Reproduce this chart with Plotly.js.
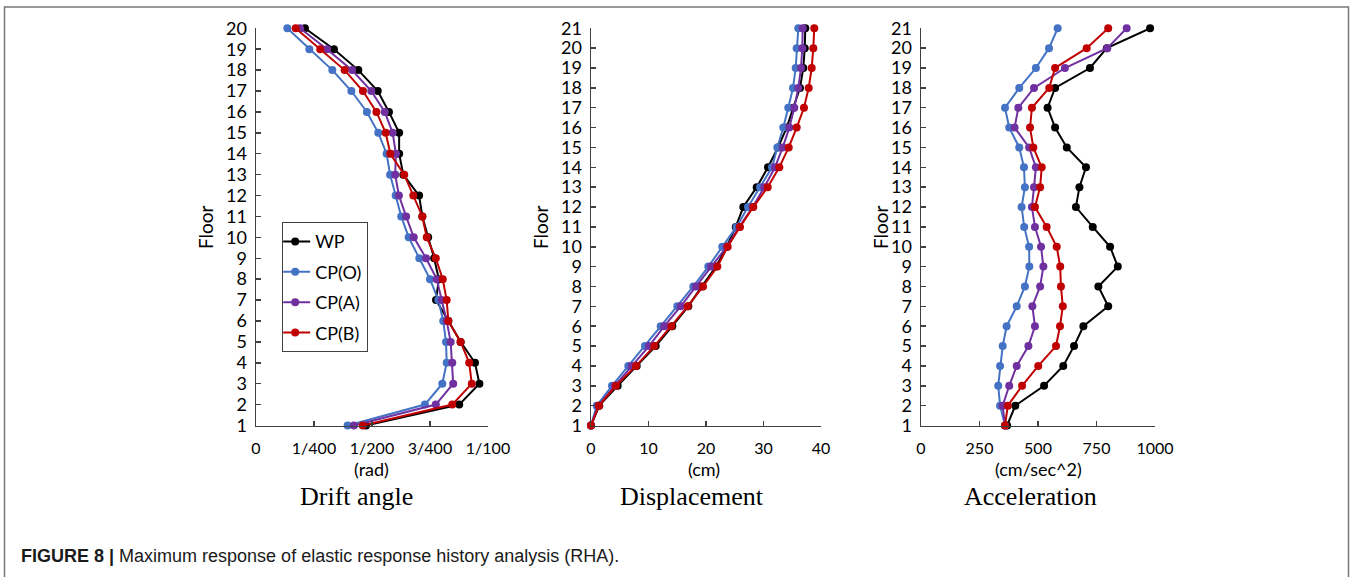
<!DOCTYPE html>
<html>
<head>
<meta charset="utf-8">
<script src="https://cdn.plot.ly/plotly-3.0.1.min.js"></script>
<style>html,body{margin:0;padding:0;background:#fff;}#chart{width:1352px;height:577px;}</style>
</head>
<body>
<div id="chart"></div>
<script>
// ---------- DATA ----------
const seriesNames = ["WP", "CP(O)", "CP(A)", "CP(B)"];
const seriesColors = ["#000000", "#4472C4", "#7030A0", "#C00000"];

const floorsDrift = [1,2,3,4,5,6,7,8,9,10,11,12,13,14,15,16,17,18,19,20];
const floorsAll   = [1,2,3,4,5,6,7,8,9,10,11,12,13,14,15,16,17,18,19,20,21];

// Drift angle (rad), floors 1..20
const driftWP  = [0.00474,0.00876,0.00963,0.00944,0.00882,0.00829,0.00776,0.00788,0.00768,0.00742,0.00717,0.00703,0.00635,0.00617,0.00617,0.00573,0.00525,0.00441,0.00336,0.00211];
const driftCPO = [0.00395,0.00728,0.00803,0.00822,0.00819,0.00807,0.00786,0.00750,0.00704,0.00658,0.00626,0.00602,0.00578,0.00563,0.00527,0.00478,0.00411,0.00329,0.00230,0.00135];
const driftCPA = [0.00422,0.00775,0.00850,0.00846,0.00839,0.00822,0.00800,0.00779,0.00733,0.00680,0.00647,0.00616,0.00600,0.00603,0.00589,0.00555,0.00497,0.00414,0.00306,0.00190];
const driftCPB = [0.00460,0.00846,0.00930,0.00919,0.00882,0.00829,0.00822,0.00805,0.00775,0.00736,0.00717,0.00678,0.00639,0.00579,0.00559,0.00519,0.00461,0.00382,0.00277,0.00171];

// Displacement (cm), floors 1..21
const dispWP  = [0,1.44,4.64,7.95,11.25,14.14,16.92,19.25,21.74,23.6,25.17,26.49,28.82,30.78,32.52,34.03,35.18,36.35,36.92,37.17,37.27];
const dispCPO = [0,0.99,3.65,6.49,9.39,12.12,15.01,17.79,20.4,22.83,25.3,27.3,29.4,31.48,32.4,33.44,34.31,35.13,35.6,35.77,36.05];
const dispCPA = [0,1.27,4.12,7.08,10.09,12.75,15.6,18.26,20.87,23.6,25.79,28.12,30.14,32.0,33.34,34.49,35.36,36.05,36.52,36.75,36.82];
const dispCPB = [0,1.39,4.35,7.83,11.01,13.97,16.82,19.48,21.97,23.77,25.91,28.23,30.73,32.75,34.38,35.77,37.04,37.86,38.38,38.66,38.83];

// Acceleration (cm/sec^2), floors 1..21
const accWP  = [368,403,526,608,654,694,800,758,841,808,734,662,677,705,623,573,541,573,722,794,979];
const accCPO = [359,338,330,338,349,366,409,444,463,462,441,430,444,440,420,377,359,420,491,547,584];
const accCPA = [359,349,377,409,459,487,476,509,523,513,487,474,483,491,462,400,416,483,615,796,879];
const accCPB = [359,371,432,501,577,594,606,598,595,580,537,487,509,516,480,466,474,548,573,708,800];

// Tick labels
const driftTickVals = [0, 0.0025, 0.005, 0.0075, 0.01];
const driftTickText = ["0", "1/400", "1/200", "3/400", "1/100"];
const dispTickVals = [0, 10, 20, 30, 40];
const accTickVals = [0, 250, 500, 750, 1000];

// ---------- BUILD ----------
const W = 1352, H = 577;
const px = v => v / W;
const py = v => 1 - v / H;

const driftSets = [driftWP, driftCPO, driftCPA, driftCPB];
const dispSets  = [dispWP, dispCPO, dispCPA, dispCPB];
const accSets   = [accWP, accCPO, accCPA, accCPB];

const traces = [];
function addPanel(sets, floors, xa, ya, legend) {
  sets.forEach((vals, i) => {
    traces.push({
      type: "scatter", mode: "lines+markers",
      x: vals, y: floors, xaxis: xa, yaxis: ya,
      name: seriesNames[i], legendgroup: "g" + i, showlegend: legend,
      line: {color: seriesColors[i], width: 2},
      marker: {color: seriesColors[i], size: 8},
      cliponaxis: false
    });
  });
}
addPanel(driftSets, floorsDrift, "x", "y", true);
addPanel(dispSets, floorsAll, "x2", "y2", false);
addPanel(accSets, floorsAll, "x3", "y3", false);

const yDom = [py(425.5), py(28.3)];
const fam = "Lato, 'Open Sans', sans-serif";
const axCommon = {
  showgrid: false, zeroline: false, showline: true, linecolor: "#404040", linewidth: 1.5,
  ticks: "inside", ticklen: 5, tickcolor: "#404040", tickwidth: 1.5,
  fixedrange: true
};
function xAxis(dom, range, vals, text, anchor) {
  return Object.assign({}, axCommon, {
    domain: dom, range: range, tickvals: vals, ticktext: text, anchor: anchor,
    tickfont: {family: fam, size: 16, color: "#000"},
    ticklabelstandoff: 8
  });
}
function yAxis(range, anchor) {
  return Object.assign({}, axCommon, {
    domain: yDom, range: range, tickmode: "linear", tick0: 1, dtick: 1, anchor: anchor,
    tickfont: {family: fam, size: 18, color: "#000"},
    ticklabelstandoff: 4
  });
}

const annotations = [];
[205, 540, 880].forEach(xp => annotations.push({
  xref: "paper", yref: "paper", x: px(xp), y: py(227), text: "Floor", showarrow: false,
  textangle: -90, font: {family: fam, size: 19, color: "#000"}, xanchor: "center", yanchor: "middle"
}));
[["(rad)", 371], ["(cm)", 704], ["(cm/sec^2)", 1038]].forEach(([t, xp]) => annotations.push({
  xref: "paper", yref: "paper", x: px(xp), y: py(469), text: t, showarrow: false,
  font: {family: fam, size: 18, color: "#000"}, xanchor: "center", yanchor: "middle"
}));
[["Drift angle", 356], ["Displacement", 692], ["Acceleration", 1030]].forEach(([t, xp]) => annotations.push({
  xref: "paper", yref: "paper", x: px(xp), y: py(497), text: t, showarrow: false,
  font: {family: "'Liberation Serif', 'DejaVu Serif', serif", size: 26, color: "#000"},
  xanchor: "center", yanchor: "middle"
}));
annotations.push({
  xref: "paper", yref: "paper", x: px(19), y: py(556), xanchor: "left", yanchor: "middle",
  showarrow: false,
  text: "<b>FIGURE 8 |</b> Maximum response of elastic response history analysis (RHA).",
  font: {family: "'Liberation Sans Narrow', 'Liberation Sans', Arial, sans-serif", size: 18, color: "#1a1a1a"}
});

const layout = {
  width: W, height: H, autosize: false,
  margin: {l: 0, r: 0, t: 0, b: 0},
  paper_bgcolor: "#fff", plot_bgcolor: "rgba(0,0,0,0)",
  showlegend: true,
  legend: {
    x: px(282), y: py(222), xanchor: "left", yanchor: "top",
    bgcolor: "#fff", bordercolor: "#404040", borderwidth: 1.2,
    font: {family: fam, size: 18, color: "#000"},
    traceorder: "grouped", tracegroupgap: 4, itemwidth: 30, indentation: -8
  },
  xaxis:  xAxis([px(256), px(488)], [0, 0.01], driftTickVals, driftTickText, "y"),
  yaxis:  yAxis([1, 20], "x"),
  xaxis2: xAxis([px(591), px(821)], [0, 40], dispTickVals, dispTickVals.map(String), "y2"),
  yaxis2: yAxis([1, 21], "x2"),
  xaxis3: xAxis([px(921), px(1155)], [0, 1000], accTickVals, accTickVals.map(String), "y3"),
  yaxis3: yAxis([1, 21], "x3"),
  annotations: annotations,
  shapes: [
    {type: "path", xref: "paper", yref: "paper",
     path: `M ${px(4.5)} 0 L ${px(4.5)} ${py(7)} L ${px(1348.5)} ${py(7)} L ${px(1348.5)} 0`,
     line: {color: "#777", width: 1.5}}
  ]
};

Plotly.newPlot("chart", traces, layout, {staticPlot: true, displayModeBar: false});
</script>
</body>
</html>
